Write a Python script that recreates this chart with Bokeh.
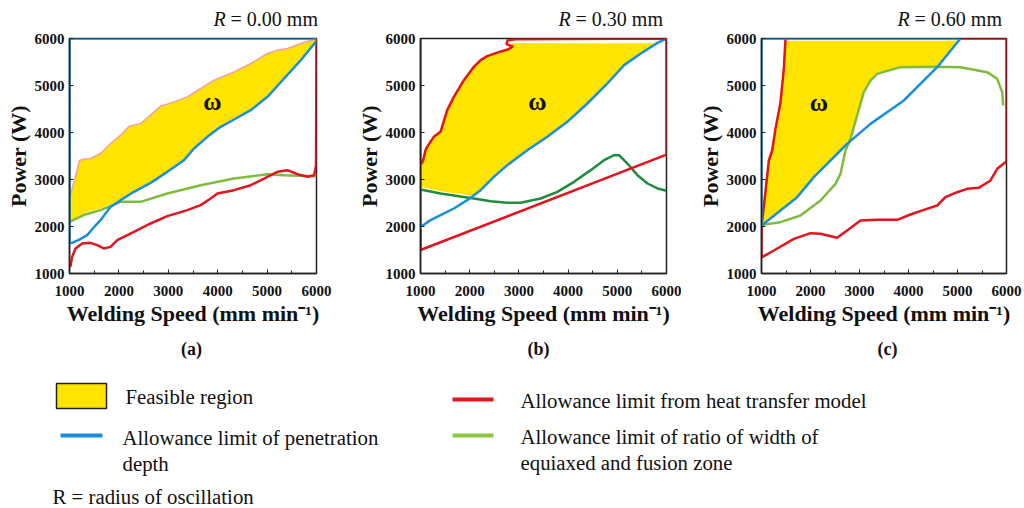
from bokeh.plotting import figure
from bokeh.layouts import row, column
from bokeh.models import Range1d, FixedTicker, Div
from bokeh.core.properties import value
from bokeh.embed import file_html
from bokeh.resources import INLINE

FONT = "Liberation Serif"

# ---------------- data ----------------
ticks = [1000, 2000, 3000, 4000, 5000, 6000]
minor = [1500, 2500, 3500, 4500, 5500]
panel_radius = ["0.00", "0.30", "0.60"]
panel_letters = ["(a)", "(b)", "(c)"]

# Panel (a)  R = 0.00 mm
blue_a_x = [6000, 1000, 1000, 1054, 1200, 1358, 1500, 1628, 1831, 2034, 2304, 2642, 2980, 3318, 3520, 3790, 4061, 4331, 4669, 5007, 5345, 5682, 6000]
blue_a_y = [6000, 6000, 1650, 1652, 1720, 1816, 1990, 2135, 2418, 2560, 2738, 2929, 3163, 3411, 3660, 3908, 4121, 4277, 4475, 4759, 5149, 5539, 5950]
red_a_x = [1000, 1020, 1054, 1122, 1257, 1426, 1561, 1696, 1831, 1966, 2304, 2642, 2980, 3385, 3655, 3858, 3993, 4331, 4669, 5007, 5209, 5412, 5615, 5817, 5952, 5990, 6000]
red_a_y = [1150, 1160, 1355, 1532, 1638, 1652, 1603, 1532, 1567, 1709, 1887, 2064, 2220, 2348, 2454, 2596, 2702, 2773, 2879, 3057, 3163, 3199, 3113, 3057, 3092, 3300, 6000]
green_a_x = [1000, 1300, 1628, 2034, 2439, 2980, 3655, 4331, 5007, 5345, 6000]
green_a_y = [2100, 2250, 2348, 2525, 2525, 2702, 2879, 3021, 3113, 3092, 3071]
pink_a_x = [1000, 1050, 1101, 1200, 1257, 1426, 1628, 1831, 2034, 2200, 2439, 2642, 2845, 3115, 3385, 3655, 3926, 4331, 4669, 5007, 5209, 5412, 5682, 6000]
pink_a_y = [2560, 2800, 2986, 3400, 3426, 3447, 3553, 3766, 3943, 4130, 4191, 4369, 4560, 4652, 4759, 4936, 5113, 5291, 5468, 5681, 5752, 5787, 5894, 6000]
feas_a_x = pink_a_x + [5682, 5345, 5007, 4669, 4331, 4061, 3790, 3520, 3318, 2980, 2642, 2304, 2034, 1628, 1300, 1000]
feas_a_y = pink_a_y + [5539, 5149, 4759, 4475, 4277, 4121, 3908, 3660, 3411, 3163, 2929, 2738, 2560, 2383, 2290, 2100]

# Panel (b)  R = 0.30 mm
blue_b_x = [1000, 1000, 1054, 1204, 1407, 1678, 1950, 2221, 2492, 2764, 3171, 3578, 3985, 4392, 4799, 5138, 5478, 5817, 6000]
blue_b_y = [6000, 2000, 2028, 2135, 2241, 2383, 2560, 2773, 3057, 3305, 3624, 3908, 4227, 4617, 5043, 5433, 5681, 5908, 6000]
red_b_x = [1000, 1000, 6000, 6000, 2930, 2770, 2750, 2870, 2790, 2700, 2560, 2357, 2221, 2085, 1882, 1678, 1543, 1407, 1271, 1136, 1102, 1054, 1030, 1020]
red_b_y = [1950, 1500, 3530, 6000, 5985, 5960, 5880, 5830, 5770, 5745, 5700, 5624, 5539, 5397, 5113, 4759, 4475, 4014, 3908, 3695, 3624, 3411, 3350, 3420]
green_b_x = [1000, 1407, 2085, 2425, 2764, 3035, 3442, 3782, 4121, 4460, 4731, 4935, 5037, 5206, 5410, 5614, 5817, 6000]
green_b_y = [2787, 2702, 2596, 2539, 2504, 2504, 2596, 2738, 2950, 3199, 3411, 3518, 3518, 3340, 3092, 2915, 2809, 2759]
feas_b_x = [1000, 1000, 1054, 1102, 1136, 1271, 1407, 1543, 1678, 1882, 2085, 2221, 2357, 2560, 2700, 2800, 2880, 5780, 5478, 5138, 4799, 4392, 3985, 3578, 3171, 2764, 2492, 2221, 2085, 1407, 1000]
feas_b_y = [2840, 3350, 3411, 3624, 3695, 3908, 4014, 4475, 4759, 5113, 5397, 5539, 5624, 5700, 5745, 5820, 5900, 5900, 5681, 5433, 5043, 4617, 4227, 3908, 3624, 3305, 3057, 2773, 2650, 2750, 2840]

# Panel (c)  R = 0.60 mm
blue_c_x = [5061, 1000, 1000, 1048, 1388, 1728, 2068, 2340, 2612, 2748, 3224, 3905, 4585, 5061]
blue_c_y = [6000, 6000, 2040, 2057, 2340, 2624, 3050, 3333, 3617, 3759, 4184, 4681, 5390, 6000]
red_c_x = [1490, 1456, 1388, 1286, 1218, 1150, 1061, 1010, 1000, 1000, 1014, 1252, 1660, 2000, 2204, 2544, 2748, 3020, 3361, 3769, 4041, 4313, 4585, 4755, 4993, 5197, 5435, 5673, 5810, 5980, 6000, 6000, 5061]
red_c_y = [6000, 5355, 4645, 4078, 3617, 3404, 2553, 2100, 1800, 1350, 1348, 1489, 1738, 1858, 1844, 1759, 1915, 2128, 2142, 2142, 2255, 2355, 2447, 2624, 2730, 2801, 2823, 2979, 3227, 3369, 3400, 6000, 6000]
green_c_x = [1000, 1048, 1388, 1796, 2204, 2510, 2612, 2714, 2816, 2952, 3088, 3224, 3360, 3837, 4585, 5061, 5605, 5810, 5912, 5932]
green_c_y = [2010, 2040, 2092, 2234, 2553, 2908, 3120, 3617, 3865, 4362, 4858, 5106, 5248, 5390, 5400, 5390, 5284, 5142, 4858, 4574]
feas_c_x = [1000, 1010, 1061, 1150, 1218, 1286, 1388, 1456, 1500, 5000, 4585, 3837, 3360, 3224, 3088, 2952, 2816, 2760, 2612, 2340, 2068, 1728, 1388, 1048, 1000]
feas_c_y = [2060, 2100, 2553, 3404, 3617, 4078, 4645, 5355, 5950, 5950, 5400, 5390, 5248, 5106, 4858, 4362, 3865, 3780, 3617, 3333, 3050, 2624, 2340, 2057, 2060]

omega_x = [3892, 3374, 2172]
omega_y = [4652, 4652, 4640]

legend_items = ["Feasible region", "Allowance limit of penetration", "depth",
                "Allowance limit from heat transfer model",
                "Allowance limit of ratio of width of", "equiaxed and fusion zone"]
footnote = "R = radius of oscillation"

# ---------------- styles ----------------
YELLOW = "#ffe400"
BLUE = "#1b8fdc"
RED = "#e2141c"
GREEN_LIGHT = "#7fbb3c"
GREEN_LEG = "#8cc63f"
GREEN_DARK = "#1f8b3d"
PINK = "#f2a0aa"
INK = "#111111"
LW = 2.5


def strip(height, y_top, y_bottom):
    f = figure(width=1024, height=height, x_range=Range1d(0, 1024),
               y_range=Range1d(y_bottom, y_top), output_backend="svg",
               toolbar_location=None, min_border=0, min_border_left=0,
               min_border_right=0, min_border_top=0, min_border_bottom=0)
    f.axis.visible = False
    f.grid.visible = False
    f.outline_line_color = None
    return f


def make_panel(idx, left, fw, right, series, feas, pink=None):
    p = figure(frame_width=fw, frame_height=235,
               min_border_left=left, min_border_right=right,
               min_border_top=10, min_border_bottom=60,
               x_range=Range1d(1000, 6000), y_range=Range1d(1000, 6000),
               output_backend="svg", toolbar_location=None)
    p.grid.visible = False
    p.outline_line_color = "#222222"
    p.outline_line_width = 1.5
    for ax in (p.xaxis[0], p.yaxis[0]):
        ax.ticker = FixedTicker(ticks=ticks, minor_ticks=minor)
        ax.major_tick_in = 4
        ax.major_tick_out = 0
        ax.minor_tick_in = 3
        ax.minor_tick_out = 0
        ax.axis_line_color = "#222222"
        ax.axis_line_width = 1.5
        ax.major_tick_line_color = "#222222"
        ax.minor_tick_line_color = "#222222"
        ax.major_label_text_font = FONT
        ax.major_label_text_font_style = "bold"
        ax.major_label_text_font_size = "15px"
        ax.major_label_text_color = INK
        ax.axis_label_text_font = FONT
        ax.axis_label_text_font_style = "bold"
        ax.axis_label_text_font_size = "22px"
        ax.axis_label_text_color = INK
    p.yaxis[0].minor_tick_in = 0
    p.xaxis[0].axis_label = "Welding Speed (mm min\u207b\u00b9)"
    p.xaxis[0].major_label_standoff = 12
    p.xaxis[0].axis_label_standoff = 2
    p.yaxis[0].axis_label = "Power (W)"
    p.yaxis[0].major_label_standoff = 5
    p.yaxis[0].axis_label_standoff = 1

    fx, fy = feas
    p.patch(fx, fy, fill_color=YELLOW, line_color=None)
    if pink is not None:
        p.line(pink[0], pink[1], line_color=PINK, line_width=1.5)
    for xs, ys, col in series:
        p.line(xs, ys, line_color=col, line_width=LW, line_join="round")

    p.text(x=[omega_x[idx]], y=[omega_y[idx]], text=["\u03c9"],
           text_font=value(FONT), text_font_style="bold", text_font_size="25px",
           text_align="center", text_baseline="middle", text_color=INK)
    return p


# ---------------- top strip: panel titles (HTML, italic R) ----------------
title_right = [318, 663, 1002]
spans = "".join(
    '<span style="position:absolute;right:%dpx;top:8px;white-space:nowrap;">'
    '<i>R</i> = %s mm</span>' % (1024 - r, rad)
    for r, rad in zip(title_right, panel_radius))
top = Div(text='<div style="position:relative;width:1024px;height:28px;'
               "font-family:'Liberation Serif',serif;font-size:20px;line-height:normal;"
               'color:#111111;">' + spans + '</div>',
          width=1024, height=28, margin=(0, 0, 0, 0))

# ---------------- panels ----------------
pa = make_panel(0, 69, 247, 20,
                [(green_a_x, green_a_y, GREEN_LIGHT), (red_a_x, red_a_y, RED), (blue_a_x, blue_a_y, BLUE)],
                (feas_a_x, feas_a_y), pink=(pink_a_x, pink_a_y))
pb = make_panel(1, 84, 246, 15,
                [(green_b_x, green_b_y, GREEN_DARK), (blue_b_x, blue_b_y, BLUE), (red_b_x, red_b_y, RED)],
                (feas_b_x, feas_b_y))
pc = make_panel(2, 80, 245, 18,
                [(green_c_x, green_c_y, GREEN_LIGHT), (red_c_x, red_c_y, RED), (blue_c_x, blue_c_y, BLUE)],
                (feas_c_x, feas_c_y))

# ---------------- bottom strip: letters + legend ----------------
bot = strip(175, 333, 508)
bot.text(x=[191, 538, 887], y=[348, 348, 348], text=panel_letters, text_font=value(FONT),
         text_font_style="bold", text_font_size="18px", text_align="center",
         text_baseline="middle", text_color=INK)

bot.quad(left=[56], right=[106], top=[383], bottom=[408], fill_color=YELLOW,
         line_color="#222222", line_width=1.5)
bot.line([60, 102], [435, 435], line_color=BLUE, line_width=4)
bot.line([452, 493], [399, 399], line_color=RED, line_width=4)
bot.line([452, 493], [435, 435], line_color=GREEN_LEG, line_width=4)

leg_tx = [125, 122, 122, 520, 520, 520]
leg_ty = [396, 437, 463, 400, 436, 462]
bot.text(x=leg_tx, y=leg_ty, text=legend_items, text_font=value(FONT),
         text_font_size="20.8px", text_baseline="middle", text_color=INK)
bot.text(x=[52], y=[496], text=[footnote], text_font=value(FONT),
         text_font_size="20.8px", text_baseline="alphabetic", text_color=INK)

layout = column(top, row(pa, pb, pc), bot)
open("out.html", "w").write(file_html(layout, INLINE))
